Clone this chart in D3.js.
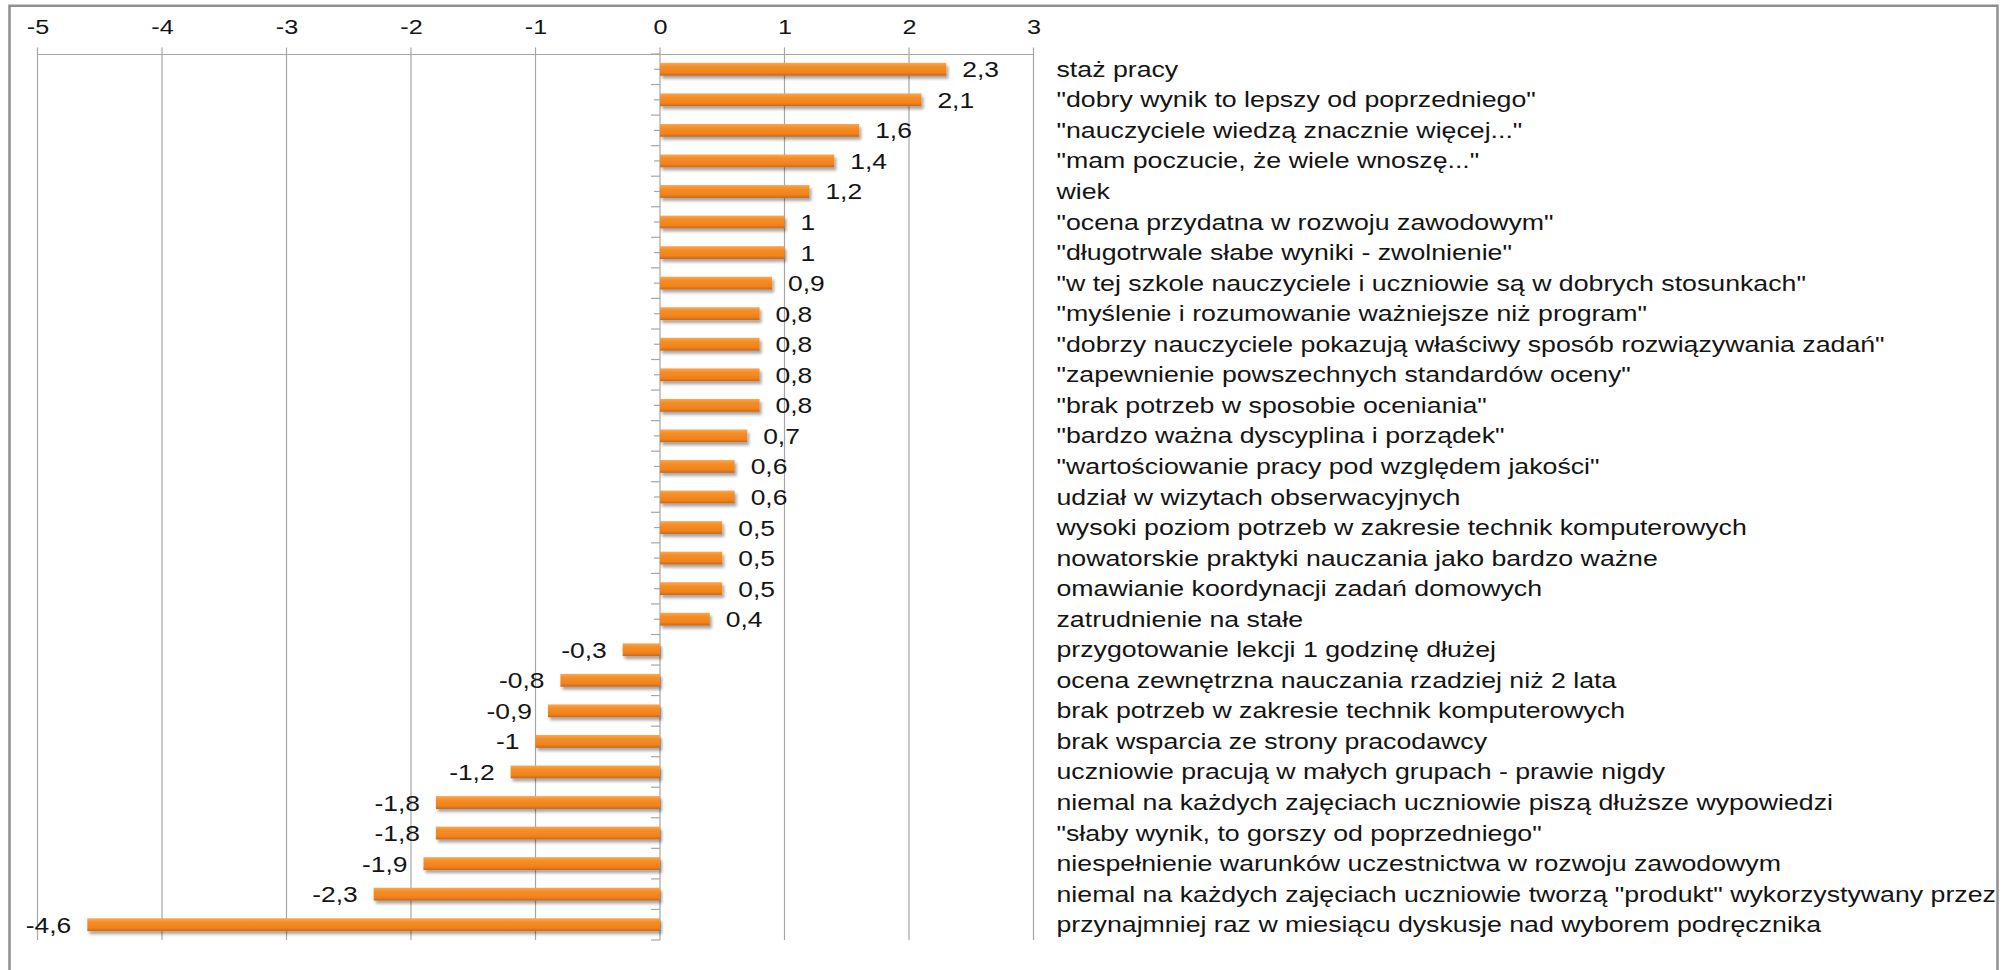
<!DOCTYPE html>
<html>
<head>
<meta charset="utf-8">
<script src="https://cdn.jsdelivr.net/npm/d3@7"></script>
<style>
  html, body { margin: 0; padding: 0; background: #fff; }
  svg { display: block; }
  text { font-family: "Liberation Sans", Arial, sans-serif; fill: #141414; }
</style>
</head>
<body>
<svg id="chart" width="2015" height="970"></svg>
<script>
const categories = [
  "staż pracy",
  "\"dobry wynik to lepszy od poprzedniego\"",
  "\"nauczyciele wiedzą znacznie więcej...\"",
  "\"mam poczucie, że wiele wnoszę...\"",
  "wiek",
  "\"ocena przydatna w rozwoju zawodowym\"",
  "\"długotrwale słabe wyniki - zwolnienie\"",
  "\"w tej szkole nauczyciele i uczniowie są w dobrych stosunkach\"",
  "\"myślenie i rozumowanie ważniejsze niż program\"",
  "\"dobrzy nauczyciele pokazują właściwy sposób rozwiązywania zadań\"",
  "\"zapewnienie powszechnych standardów oceny\"",
  "\"brak potrzeb w sposobie oceniania\"",
  "\"bardzo ważna dyscyplina i porządek\"",
  "\"wartościowanie pracy pod względem jakości\"",
  "udział w wizytach obserwacyjnych",
  "wysoki poziom potrzeb w zakresie technik komputerowych",
  "nowatorskie praktyki nauczania jako bardzo ważne",
  "omawianie koordynacji zadań domowych",
  "zatrudnienie na stałe",
  "przygotowanie lekcji 1 godzinę dłużej",
  "ocena zewnętrzna nauczania rzadziej niż 2 lata",
  "brak potrzeb w zakresie technik komputerowych",
  "brak wsparcia ze strony pracodawcy",
  "uczniowie pracują w małych grupach - prawie nigdy",
  "niemal na każdych zajęciach uczniowie piszą dłuższe wypowiedzi",
  "\"słaby wynik, to gorszy od poprzedniego\"",
  "niespełnienie warunków uczestnictwa w rozwoju zawodowym",
  "niemal na każdych zajęciach uczniowie tworzą \"produkt\" wykorzystywany przez",
  "przynajmniej raz w miesiącu dyskusje nad wyborem podręcznika"
];
const values = [2.3, 2.1, 1.6, 1.4, 1.2, 1, 1, 0.9, 0.8, 0.8, 0.8, 0.8, 0.7, 0.6, 0.6,
  0.5, 0.5, 0.5, 0.4, -0.3, -0.8, -0.9, -1, -1.2, -1.8, -1.8, -1.9, -2.3, -4.6];
const xTicks = [-5, -4, -3, -2, -1, 0, 1, 2, 3];

const data = categories.map((c, i) => ({ cat: c, val: values[i] }));
const fmt = v => String(v).replace(".", ",");

const svg = d3.select("#chart");
const W = 2015, H = 970;
const plotTop = 54, plotBottom = 940;
const STRETCH = 1.2;
const CAT_STRETCH = 1.188;

const x = d3.scaleLinear().domain([-5, 3]).range([37.5, 1033.5]);
const y = d3.scaleBand().domain(categories).range([plotTop, plotBottom])
  .paddingInner(0.58).paddingOuter(0.29);
const step = y.step();

// defs
const defs = svg.append("defs");
const grad = defs.append("linearGradient").attr("id", "barGrad")
  .attr("x1", 0).attr("y1", 0).attr("x2", 0).attr("y2", 1);
grad.append("stop").attr("offset", "0%").attr("stop-color", "#f9a652");
grad.append("stop").attr("offset", "30%").attr("stop-color", "#f68d24");
grad.append("stop").attr("offset", "75%").attr("stop-color", "#f0831c");
grad.append("stop").attr("offset", "100%").attr("stop-color", "#c9661a");
const filt = defs.append("filter").attr("id", "shadow")
  .attr("x", "-5%").attr("y", "-50%").attr("width", "115%").attr("height", "250%");
filt.append("feDropShadow").attr("dx", 2).attr("dy", 3).attr("stdDeviation", 1.8)
  .attr("flood-color", "#000").attr("flood-opacity", 0.35);

// background + border
svg.append("rect").attr("x", 0).attr("y", 0).attr("width", W).attr("height", H).attr("fill", "#fff");
svg.append("rect").attr("x", 9.5).attr("y", 5.75).attr("width", 1988).attr("height", 1000)
  .attr("fill", "none").attr("stroke", "#8f8f8f").attr("stroke-width", 2.5);

// gridlines
svg.append("g").selectAll("line").data(xTicks).join("line")
  .attr("x1", d => x(d)).attr("x2", d => x(d))
  .attr("y1", plotTop - 6.5).attr("y2", plotBottom)
  .attr("stroke", "#a6a6a6").attr("stroke-width", 1.2);

// top axis
const axis = d3.axisTop(x).tickValues(xTicks).tickSize(0).tickPadding(0)
  .tickFormat(d => String(d));
const gAxis = svg.append("g").attr("transform", `translate(0,${plotTop})`).call(axis);
gAxis.select(".domain").attr("stroke", "#a6a6a6").attr("stroke-width", 1.2);
gAxis.selectAll(".tick text")
  .attr("font-size", 21).attr("fill", "#141414")
  .attr("font-family", "Liberation Sans, Arial, sans-serif")
  .attr("y", -20)
  .attr("transform", `scale(${STRETCH},1)`);

// category ticks on zero line (band edges and centres)
const tickYs = [];
for (let i = 0; i <= categories.length; i++) tickYs.push({ yy: plotTop + i * step, len: 9 });
categories.forEach(c => tickYs.push({ yy: y(c) + y.bandwidth() / 2, len: 6 }));
svg.append("g").selectAll("line").data(tickYs).join("line")
  .attr("x1", d => x(0) - d.len).attr("x2", x(0))
  .attr("y1", d => d.yy).attr("y2", d => d.yy)
  .attr("stroke", "#a6a6a6").attr("stroke-width", 1.2);

// bars
svg.append("g").selectAll("rect").data(data).join("rect")
  .attr("x", d => x(Math.min(0, d.val)))
  .attr("width", d => Math.abs(x(d.val) - x(0)))
  .attr("y", d => y(d.cat))
  .attr("height", y.bandwidth())
  .attr("fill", "url(#barGrad)")
  .attr("filter", "url(#shadow)");

// value labels
svg.append("g").selectAll("g").data(data).join("g")
  .attr("transform", d => `translate(${d.val >= 0 ? x(d.val) + 16 : x(d.val) - 16},${y(d.cat) + y.bandwidth() / 2 + 8}) scale(${STRETCH},1)`)
  .append("text")
  .attr("font-size", 22)
  .attr("text-anchor", d => d.val >= 0 ? "start" : "end")
  .text(d => fmt(d.val));

// category labels
svg.append("g").selectAll("g").data(data).join("g")
  .attr("transform", d => `translate(1056.5,${y(d.cat) + y.bandwidth() / 2 + 7.5}) scale(${CAT_STRETCH},1)`)
  .append("text")
  .attr("font-size", 22.5)
  .text(d => d.cat);
</script>
</body>
</html>
